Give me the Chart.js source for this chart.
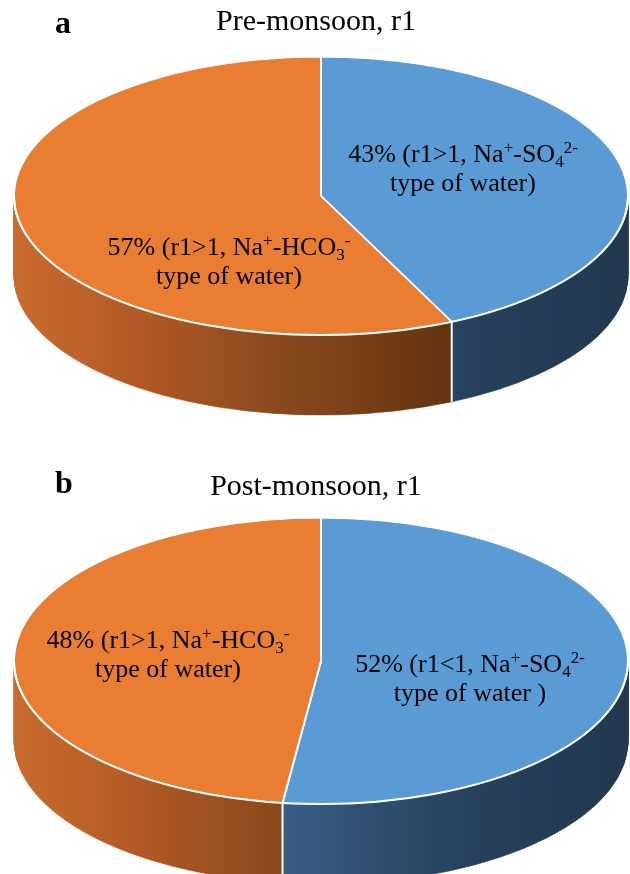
<!DOCTYPE html>
<html>
<head>
<meta charset="utf-8">
<script src="https://cdn.jsdelivr.net/npm/chart.js@4/dist/chart.umd.min.js"></script>
<style>
  html, body { margin: 0; padding: 0; background: #ffffff; }
  #wrap { position: relative; width: 630px; height: 874px; overflow: hidden; }
  canvas { position: absolute; left: 0; }
  #pre { top: 0; }
  #post { top: 437px; }
</style>
</head>
<body>
<div id="wrap">
  <canvas id="pre" width="630" height="437"></canvas>
  <canvas id="post" width="630" height="437"></canvas>
</div>
<script>
// Share of samples (%) per water type, by r1 class
const waterTypes = ['SO4', 'HCO3'];
const preValues = [43, 57];
const postValues = [52, 48];
const preRatio = ['r1>1', 'r1>1'];
const postRatio = ['r1<1', 'r1>1'];
const preTail = ['type of water)', 'type of water)'];
const postTail = ['type of water )', 'type of water)'];
const panelLetters = ['a', 'b'];
const panelTitles = ['Pre-monsoon, r1', 'Post-monsoon, r1'];

// Anion formula pieces: [text, '' | 'sub' | 'sup']
const anionParts = {
  SO4: [['SO', ''], ['4', 'sub'], ['2-', 'sup']],
  HCO3: [['HCO', ''], ['3', 'sub'], ['-', 'sup']]
};

// ---- styling ----
const SERIF = '"Liberation Serif", "Times New Roman", serif';
const RX = 307;       // pie radius in px (horizontal semi-axis)
const DEPTH = 80;     // thickness of the disc
const topColor = { SO4: '#5B9BD5', HCO3: '#E97D32' };
const sideStops = {
  SO4: [[0, '#4f79a8'], [0.43, '#3b5e86'], [0.6, '#2f4d6e'], [0.76, '#26405b'], [1, '#213850']],
  HCO3: [[0, '#c96b2e'], [0.2, '#b25a25'], [0.42, '#8c4a1d'], [0.76, '#5c300f'], [1, '#50290c']]
};

const panels = [
  { canvas: 'pre', values: preValues, ratios: preRatio, tails: preTail,
    ry: 139, padding: { left: 12, right: 0, top: 0, bottom: 45 },
    titleY: 30, letterY: 33, labelPos: [[142, -34], [-92, 59]] },
  { canvas: 'post', values: postValues, ratios: postRatio, tails: postTail,
    ry: 143, padding: { left: 12, right: 0, top: 11, bottom: 0 },
    titleY: 58, letterY: 56, labelPos: [[149, 11], [-153, -13]] }
];

function drawRich(ctx, parts, cx, baseline, size) {
  const small = Math.round(size * 0.65);
  const fontFor = m => (m ? small : size) + 'px ' + SERIF;
  let total = 0;
  parts.forEach(([t, m]) => { ctx.font = fontFor(m); total += ctx.measureText(t).width; });
  let x = cx - total / 2;
  ctx.textAlign = 'left';
  ctx.textBaseline = 'alphabetic';
  parts.forEach(([t, m]) => {
    ctx.font = fontFor(m);
    const dy = m === 'sup' ? -size * 0.35 : m === 'sub' ? size * 0.2 : 0;
    ctx.fillText(t, x, baseline + dy);
    x += ctx.measureText(t).width;
  });
}

// Turns the flat pie into a tilted disc: squashed top face plus a shaded front wall
const pie3d = {
  id: 'pie3d',
  beforeDatasetsDraw(chart, args, opts) {
    const ctx = chart.ctx;
    const arcs = chart.getDatasetMeta(0).data;
    const { x: cx, y: cy, outerRadius: r } = arcs[0];
    const k = opts.ry / r;
    const grads = arcs.map((arc, i) => {
      const g = ctx.createLinearGradient(cx - r, 0, cx + r, 0);
      sideStops[waterTypes[i]].forEach(([o, c]) => g.addColorStop(o, c));
      return g;
    });
    for (let s = DEPTH; s >= 1; s--) {
      ctx.save();
      ctx.translate(0, cy + s);
      ctx.scale(1, k);
      ctx.translate(0, -cy);
      arcs.forEach((arc, i) => {
        const orig = arc.options;
        arc.options = Object.assign({}, orig, { backgroundColor: grads[i], borderColor: grads[i], borderWidth: 1 });
        arc.draw(ctx);
        arc.options = orig;
      });
      ctx.restore();
    }
    // white seams on the front wall where two slices meet
    ctx.save();
    ctx.strokeStyle = '#ffffff';
    ctx.lineWidth = 2;
    arcs.forEach(arc => {
      const a = arc.startAngle;
      if (Math.sin(a) > 0.02) {
        const x = cx + r * Math.cos(a);
        const y = cy + opts.ry * Math.sin(a);
        ctx.beginPath();
        ctx.moveTo(x, y);
        ctx.lineTo(x, y + DEPTH);
        ctx.stroke();
      }
    });
    ctx.restore();
  },
  beforeDatasetDraw(chart, args, opts) {
    const ctx = chart.ctx;
    const arc = chart.getDatasetMeta(0).data[0];
    ctx.save();
    ctx.translate(0, arc.y);
    ctx.scale(1, opts.ry / arc.outerRadius);
    ctx.translate(0, -arc.y);
  },
  afterDatasetDraw(chart) {
    chart.ctx.restore();
  },
  afterDatasetsDraw(chart, args, opts) {
    const ctx = chart.ctx;
    const meta = chart.getDatasetMeta(0);
    const arcs = meta.data;
    const { x: cx, y: cy, outerRadius: r } = arcs[0];
    // rim highlight along the front edge of the top face
    ctx.save();
    ctx.strokeStyle = '#ffffff';
    ctx.lineWidth = 2;
    ctx.beginPath();
    ctx.ellipse(cx, cy, r, opts.ry, 0, 0, Math.PI);
    ctx.stroke();

    // slice labels
    ctx.fillStyle = '#000000';
    const ds = chart.data.datasets[0];
    arcs.forEach((arc, i) => {
      const type = waterTypes[i];
      const line1 = [[ds.data[i] + '% (' + opts.ratios[i] + ', Na', ''], ['+', 'sup'], ['-', '']]
        .concat(anionParts[type]);
      const [dx, dy] = opts.labelPos[i];
      drawRich(ctx, line1, cx + dx, cy + dy, 26);
      drawRich(ctx, [[opts.tails[i], '']], cx + dx, cy + dy + 29, 26);
    });

    // panel letter and title
    ctx.textBaseline = 'alphabetic';
    ctx.textAlign = 'left';
    ctx.font = 'bold 32px ' + SERIF;
    ctx.fillText(opts.letter, 55, opts.letterY);
    ctx.textAlign = 'center';
    ctx.font = '30px ' + SERIF;
    ctx.fillText(opts.title, 316, opts.titleY);
    ctx.restore();
  }
};

panels.forEach((p, n) => {
  new Chart(document.getElementById(p.canvas), {
    type: 'pie',
    data: {
      labels: waterTypes,
      datasets: [{
        data: p.values,
        backgroundColor: waterTypes.map(t => topColor[t]),
        borderColor: '#ffffff',
        borderWidth: 2,
        radius: RX,
        clip: false
      }]
    },
    options: {
      responsive: false,
      animation: false,
      events: [],
      layout: { padding: p.padding },
      plugins: {
        legend: { display: false },
        tooltip: { enabled: false },
        title: { display: false },
        pie3d: {
          ry: p.ry, ratios: p.ratios, tails: p.tails, labelPos: p.labelPos,
          letter: panelLetters[n], title: panelTitles[n],
          letterY: p.letterY, titleY: p.titleY
        }
      }
    },
    plugins: [pie3d]
  });
});
</script>
</body>
</html>
